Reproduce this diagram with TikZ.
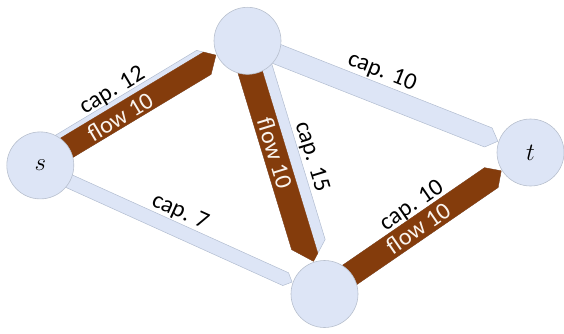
\documentclass[tikz,border=0pt]{standalone}
\usepackage{fontspec}
\setmainfont{Carlito}
\usetikzlibrary{calc}
\definecolor{capfill}{RGB}{221,229,246}
\definecolor{capedge}{RGB}{178,189,208}
\definecolor{flowfill}{RGB}{132,60,12}
\definecolor{nodeedge}{RGB}{184,192,206}
\definecolor{flowtext}{RGB}{250,244,238}
\pgfdeclarelayer{bands}
\pgfsetlayers{bands,main}

% distance from the head node's centre to the arrow point
\newcommand\tipgap{34.5pt}
% \arrowband{from}{to}{right edge}{left edge}{shift}{style}
% a straight band between two nodes whose head ends in a 90 degree point;
% edges are measured (in pt) to the left of the centre line, shift moves the whole band
\newcommand\arrowband[6]{%
  \path[#6]
    ($(#1)!{((#3)+(#5))*1pt}!90:(#2)$)
    -- ($(#2)!{\tipgap+abs(#3)*1pt}!(#1)!{((#3)+(#5))*1pt}!-90:(#1)$)
    -- ($(#2)!\tipgap!(#1)!{(#5)*1pt}!-90:(#1)$)
    -- ($(#2)!{\tipgap+abs(#4)*1pt}!(#1)!{((#4)+(#5))*1pt}!-90:(#1)$)
    -- ($(#1)!{((#4)+(#5))*1pt}!90:(#2)$)
    -- cycle;}

\begin{document}
\begin{tikzpicture}[x=1pt,y=1pt,
  vertex/.style={circle, fill=capfill, draw=nodeedge, line width=0.6pt,
    minimum size=67pt, inner sep=0pt, font=\fontsize{26}{26}\selectfont},
  capband/.style={fill=capfill, draw=capedge, line width=0.5pt, line join=round},
  flowband/.style={fill=flowfill, draw=flowfill, line width=0.3pt, line join=round},
  caplabel/.style={font=\fontsize{24}{24}\selectfont, text=black, inner sep=0pt},
  flowlabel/.style={font=\fontsize{24}{24}\selectfont, text=flowtext, inner sep=0pt}]
\useasboundingbox (0,0) rectangle (564,333);

% vertices
\node[vertex] (s) at (40.3,167.6) {$s$};
\node[vertex] (a) at (247.5,292.2) {};
\node[vertex] (t) at (530.5,180.5) {$t$};
\node[vertex] (b) at (324.5,39) {};

% capacity bands, with the flow drawn over their right-hand side
\begin{pgfonlayer}{bands}
  \arrowband{s}{a}{-14}{14}{4}{capband}
  \arrowband{a}{b}{-17.5}{17.5}{-1}{capband}
  \arrowband{a}{t}{-10.25}{10.25}{-1.5}{capband}
  \arrowband{s}{b}{-7}{7}{-2.5}{capband}
  \arrowband{b}{t}{-12}{12}{1.5}{capband}
  \arrowband{s}{a}{-14}{9}{4}{flowband}
  \arrowband{a}{b}{-17.5}{6.5}{-1}{flowband}
  \arrowband{b}{t}{-12}{12}{1.5}{flowband}
\end{pgfonlayer}

% labels
\node[caplabel, rotate=31] (c12) at (112.5,242) {cap. 12};
\node[flowlabel, rotate=31] (f12) at (120,216.3) {flow 10};
\node[flowlabel, rotate=-73] (f15) at (275,180) {flow 10};
\node[caplabel, rotate=-73] (c15) at (311.5,176) {cap. 15};
\node[caplabel, rotate=-21.5] (c10a) at (382,261) {cap. 10};
\node[caplabel, rotate=-24.3] (c7) at (180,121) {cap. 7};
\node[caplabel, rotate=34.5] (c10b) at (412,127) {cap. 10};
\node[flowlabel, rotate=34.5] (f10b) at (418,105) {flow 10};
\end{tikzpicture}
\end{document}
